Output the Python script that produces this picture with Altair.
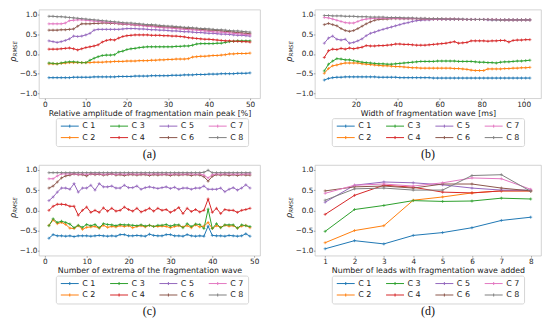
import altair as alt
import pandas as pd

series = ["C 1", "C 2", "C 3", "C 4", "C 5", "C 6", "C 7", "C 8"]
colors = ["#1f77b4", "#ff7f0e", "#2ca02c", "#d62728", "#9467bd", "#8c564b", "#e377c2", "#7f7f7f"]

# ---------------- panel (a) ----------------
x_a = list(range(1, 51))
a_c1 = [-0.60, -0.60, -0.60, -0.60, -0.60, -0.60, -0.59, -0.59, -0.59, -0.59,
        -0.59, -0.58, -0.58, -0.58, -0.58, -0.58, -0.58, -0.57, -0.57, -0.57,
        -0.57, -0.56, -0.56, -0.56, -0.56, -0.55, -0.55, -0.55, -0.55, -0.55,
        -0.54, -0.54, -0.54, -0.53, -0.53, -0.53, -0.52, -0.52, -0.52, -0.51,
        -0.51, -0.51, -0.50, -0.50, -0.50, -0.50, -0.49, -0.49, -0.49, -0.48]
a_c2 = [-0.25, -0.25, -0.25, -0.24, -0.23, -0.22, -0.22, -0.22, -0.22, -0.22,
        -0.22, -0.21, -0.21, -0.21, -0.20, -0.20, -0.19, -0.19, -0.19, -0.18,
        -0.18, -0.18, -0.17, -0.17, -0.17, -0.16, -0.16, -0.15, -0.15, -0.14,
        -0.14, -0.13, -0.13, -0.13, -0.12, -0.08, -0.07, -0.06, -0.06, -0.05,
        -0.04, -0.04, -0.03, -0.02, 0.00, 0.00, 0.01, 0.01, 0.01, 0.02]
a_c3 = [-0.23, -0.24, -0.25, -0.23, -0.21, -0.20, -0.20, -0.21, -0.22, -0.22,
        -0.16, -0.11, -0.07, -0.04, -0.03, -0.03, -0.02, 0.05, 0.07, 0.11,
        0.13, 0.14, 0.16, 0.17, 0.18, 0.18, 0.18, 0.18, 0.18, 0.18,
        0.18, 0.19, 0.19, 0.20, 0.20, 0.22, 0.25, 0.26, 0.26, 0.26,
        0.26, 0.27, 0.27, 0.29, 0.31, 0.32, 0.33, 0.33, 0.33, 0.33]
a_c4 = [0.12, 0.12, 0.12, 0.13, 0.14, 0.15, 0.13, 0.10, 0.13, 0.16,
        0.18, 0.20, 0.23, 0.30, 0.34, 0.36, 0.35, 0.40, 0.44, 0.46,
        0.47, 0.48, 0.48, 0.48, 0.48, 0.47, 0.47, 0.47, 0.46, 0.46,
        0.45, 0.45, 0.44, 0.43, 0.41, 0.40, 0.39, 0.38, 0.37, 0.37,
        0.36, 0.35, 0.34, 0.33, 0.33, 0.32, 0.32, 0.31, 0.31, 0.30]
a_c5 = [0.33, 0.31, 0.29, 0.31, 0.34, 0.38, 0.45, 0.44, 0.45, 0.48,
        0.52, 0.60, 0.62, 0.62, 0.62, 0.62, 0.62, 0.62, 0.63, 0.64,
        0.64, 0.64, 0.63, 0.63, 0.62, 0.61, 0.61, 0.60, 0.60, 0.59,
        0.58, 0.58, 0.57, 0.56, 0.56, 0.55, 0.54, 0.54, 0.53, 0.52,
        0.52, 0.51, 0.50, 0.50, 0.49, 0.48, 0.47, 0.47, 0.46, 0.45]
a_c6 = [0.60, 0.60, 0.60, 0.61, 0.61, 0.62, 0.63, 0.70, 0.76, 0.76,
        0.76, 0.77, 0.77, 0.78, 0.78, 0.77, 0.77, 0.76, 0.75, 0.75,
        0.74, 0.73, 0.73, 0.72, 0.71, 0.71, 0.70, 0.69, 0.68, 0.68,
        0.67, 0.66, 0.66, 0.65, 0.64, 0.63, 0.63, 0.62, 0.61, 0.60,
        0.60, 0.59, 0.58, 0.57, 0.56, 0.55, 0.54, 0.53, 0.52, 0.51]
a_c7 = [0.76, 0.76, 0.76, 0.76, 0.78, 0.84, 0.85, 0.86, 0.86, 0.85,
        0.84, 0.83, 0.82, 0.81, 0.80, 0.79, 0.78, 0.77, 0.76, 0.75,
        0.74, 0.73, 0.72, 0.71, 0.70, 0.69, 0.68, 0.67, 0.66, 0.66,
        0.65, 0.64, 0.63, 0.62, 0.61, 0.61, 0.60, 0.59, 0.58, 0.57,
        0.56, 0.55, 0.55, 0.54, 0.53, 0.52, 0.51, 0.50, 0.49, 0.48]
a_c8 = [0.95, 0.95, 0.94, 0.94, 0.93, 0.92, 0.91, 0.90, 0.89, 0.88,
        0.87, 0.86, 0.85, 0.84, 0.83, 0.82, 0.81, 0.80, 0.79, 0.78,
        0.78, 0.77, 0.76, 0.75, 0.74, 0.74, 0.73, 0.72, 0.71, 0.70,
        0.70, 0.69, 0.68, 0.67, 0.67, 0.66, 0.65, 0.64, 0.64, 0.63,
        0.62, 0.61, 0.61, 0.60, 0.59, 0.58, 0.58, 0.57, 0.56, 0.55]

# ---------------- panel (b) ----------------
x_b = list(range(5, 104, 2))
b_c1 = [-0.66, -0.62, -0.60, -0.59, -0.59, -0.58, -0.58, -0.58, -0.58, -0.58,
        -0.58, -0.58, -0.58, -0.59, -0.59, -0.59, -0.59, -0.59, -0.60, -0.60,
        -0.60, -0.60, -0.60, -0.60, -0.60, -0.60, -0.61, -0.61, -0.61, -0.61,
        -0.61, -0.61, -0.61, -0.61, -0.61, -0.61, -0.61, -0.61, -0.61, -0.61,
        -0.61, -0.61, -0.61, -0.61, -0.61, -0.61, -0.61, -0.61, -0.61, -0.61]
b_c2 = [-0.49, -0.37, -0.30, -0.28, -0.25, -0.23, -0.23, -0.23, -0.23, -0.25,
        -0.26, -0.27, -0.28, -0.29, -0.30, -0.30, -0.31, -0.32, -0.32, -0.33,
        -0.34, -0.35, -0.35, -0.36, -0.36, -0.36, -0.36, -0.36, -0.36, -0.36,
        -0.36, -0.37, -0.37, -0.38, -0.39, -0.41, -0.42, -0.42, -0.42, -0.38,
        -0.38, -0.38, -0.38, -0.37, -0.37, -0.36, -0.36, -0.35, -0.35, -0.34]
b_c3 = [-0.43, -0.26, -0.18, -0.12, -0.13, -0.15, -0.15, -0.17, -0.19, -0.21,
        -0.22, -0.23, -0.24, -0.25, -0.25, -0.26, -0.26, -0.25, -0.24, -0.23,
        -0.22, -0.21, -0.20, -0.19, -0.19, -0.19, -0.19, -0.18, -0.18, -0.18,
        -0.18, -0.18, -0.19, -0.19, -0.19, -0.19, -0.20, -0.21, -0.21, -0.22,
        -0.22, -0.23, -0.21, -0.20, -0.20, -0.19, -0.18, -0.18, -0.17, -0.16]
b_c4 = [-0.09, 0.08, 0.12, 0.11, 0.14, 0.12, 0.15, 0.13, 0.15, 0.17,
        0.21, 0.20, 0.20, 0.21, 0.21, 0.22, 0.23, 0.25, 0.25, 0.24,
        0.24, 0.23, 0.22, 0.22, 0.22, 0.23, 0.24, 0.25, 0.26, 0.27,
        0.29, 0.31, 0.27, 0.28, 0.29, 0.33, 0.33, 0.33, 0.33, 0.32,
        0.33, 0.33, 0.34, 0.34, 0.30, 0.34, 0.35, 0.35, 0.36, 0.36]
b_c5 = [0.27, 0.40, 0.45, 0.37, 0.35, 0.37, 0.27, 0.29, 0.33, 0.38,
        0.46, 0.52, 0.55, 0.59, 0.62, 0.65, 0.68, 0.71, 0.74, 0.77,
        0.79, 0.82, 0.84, 0.85, 0.86, 0.86, 0.87, 0.87, 0.87, 0.87,
        0.87, 0.87, 0.87, 0.87, 0.87, 0.87, 0.87, 0.87, 0.87, 0.86,
        0.86, 0.86, 0.86, 0.86, 0.86, 0.86, 0.86, 0.86, 0.86, 0.86]
b_c6 = [0.74, 0.77, 0.74, 0.71, 0.64, 0.59, 0.57, 0.59, 0.64, 0.70,
        0.76, 0.81, 0.85, 0.87, 0.88, 0.88, 0.89, 0.89, 0.89, 0.89,
        0.89, 0.89, 0.89, 0.88, 0.88, 0.88, 0.88, 0.88, 0.88, 0.88,
        0.88, 0.88, 0.87, 0.87, 0.87, 0.87, 0.87, 0.87, 0.87, 0.87,
        0.87, 0.87, 0.86, 0.86, 0.86, 0.86, 0.86, 0.86, 0.86, 0.86]
b_c7 = [0.92, 0.91, 0.88, 0.85, 0.82, 0.79, 0.78, 0.78, 0.82, 0.86,
        0.88, 0.89, 0.90, 0.90, 0.90, 0.90, 0.90, 0.90, 0.89, 0.89,
        0.89, 0.89, 0.89, 0.89, 0.88, 0.88, 0.88, 0.88, 0.88, 0.88,
        0.88, 0.88, 0.88, 0.87, 0.87, 0.87, 0.87, 0.87, 0.87, 0.87,
        0.87, 0.87, 0.87, 0.86, 0.86, 0.86, 0.86, 0.86, 0.86, 0.86]
b_c8 = [0.97, 0.97, 0.96, 0.96, 0.96, 0.95, 0.95, 0.95, 0.94, 0.94,
        0.94, 0.93, 0.93, 0.93, 0.93, 0.92, 0.92, 0.92, 0.92, 0.91,
        0.91, 0.91, 0.90, 0.90, 0.90, 0.89, 0.89, 0.89, 0.89, 0.88,
        0.88, 0.88, 0.88, 0.88, 0.87, 0.87, 0.87, 0.87, 0.87, 0.87,
        0.86, 0.86, 0.86, 0.86, 0.86, 0.86, 0.86, 0.86, 0.86, 0.86]

# ---------------- panel (c) ----------------
x_c = list(range(1, 50))
c_c1 = [-0.69, -0.60, -0.63, -0.63, -0.64, -0.63, -0.65, -0.63, -0.63, -0.63,
        -0.64, -0.63, -0.62, -0.63, -0.64, -0.63, -0.64, -0.60, -0.60, -0.63,
        -0.63, -0.62, -0.63, -0.64, -0.59, -0.62, -0.63, -0.63, -0.60, -0.60,
        -0.63, -0.63, -0.64, -0.60, -0.63, -0.64, -0.63, -0.64, -0.39, -0.62,
        -0.63, -0.63, -0.64, -0.62, -0.63, -0.64, -0.63, -0.58, -0.64]
c_c2 = [-0.37, -0.24, -0.33, -0.30, -0.35, -0.44, -0.45, -0.38, -0.47, -0.42,
        -0.41, -0.40, -0.44, -0.37, -0.42, -0.40, -0.41, -0.38, -0.40, -0.38,
        -0.43, -0.40, -0.38, -0.41, -0.37, -0.40, -0.40, -0.39, -0.40, -0.43,
        -0.40, -0.38, -0.41, -0.38, -0.43, -0.36, -0.41, -0.39, -0.30, -0.45,
        -0.38, -0.42, -0.37, -0.39, -0.38, -0.44, -0.39, -0.37, -0.43]
c_c3 = [-0.38, -0.21, -0.30, -0.27, -0.30, -0.34, -0.43, -0.37, -0.42, -0.35,
        -0.38, -0.35, -0.43, -0.33, -0.35, -0.36, -0.38, -0.35, -0.36, -0.36,
        -0.37, -0.38, -0.36, -0.39, -0.37, -0.40, -0.37, -0.37, -0.35, -0.39,
        -0.36, -0.36, -0.43, -0.33, -0.40, -0.34, -0.35, -0.45, 0.03, -0.45,
        -0.33, -0.43, -0.36, -0.36, -0.36, -0.44, -0.36, -0.38, -0.40]
c_c4 = [0.00, 0.10, 0.15, 0.15, 0.14, 0.10, 0.10, -0.12, 0.00, 0.08,
        -0.05, 0.00, -0.05, 0.06, -0.02, 0.05, -0.02, 0.00, 0.08, 0.02,
        -0.02, 0.05, -0.04, 0.00, 0.05, -0.02, 0.05, 0.00, 0.02, -0.05,
        0.00, 0.07, -0.08, 0.05, -0.03, 0.02, -0.04, 0.00, 0.28, -0.05,
        0.05, -0.08, 0.02, 0.00, 0.00, -0.05, 0.00, 0.02, 0.05]
c_c5 = [0.24, 0.33, 0.45, 0.55, 0.55, 0.52, 0.66, 0.45, 0.55, 0.55,
        0.62, 0.50, 0.66, 0.58, 0.58, 0.60, 0.55, 0.55, 0.62, 0.56,
        0.56, 0.60, 0.52, 0.56, 0.58, 0.56, 0.54, 0.56, 0.58, 0.54,
        0.57, 0.52, 0.55, 0.55, 0.52, 0.55, 0.55, 0.60, 0.52, 0.52,
        0.52, 0.55, 0.46, 0.52, 0.56, 0.50, 0.55, 0.63, 0.55]
c_c6 = [0.55, 0.60, 0.70, 0.80, 0.85, 0.87, 0.90, 0.88, 0.88, 0.85,
        0.90, 0.88, 0.89, 0.87, 0.88, 0.90, 0.87, 0.88, 0.86, 0.88,
        0.88, 0.87, 0.88, 0.88, 0.86, 0.88, 0.87, 0.88, 0.88, 0.86,
        0.88, 0.87, 0.88, 0.88, 0.86, 0.88, 0.87, 0.83, 0.72, 0.84,
        0.88, 0.87, 0.88, 0.86, 0.88, 0.86, 0.88, 0.87, 0.87]
c_c7 = [0.78, 0.78, 0.85, 0.90, 0.90, 0.90, 0.90, 0.89, 0.90, 0.89,
        0.90, 0.90, 0.90, 0.89, 0.90, 0.90, 0.89, 0.90, 0.89, 0.90,
        0.90, 0.89, 0.90, 0.90, 0.89, 0.90, 0.90, 0.89, 0.90, 0.89,
        0.90, 0.90, 0.89, 0.90, 0.90, 0.89, 0.90, 0.87, 0.80, 0.88,
        0.90, 0.89, 0.90, 0.90, 0.89, 0.90, 0.89, 0.90, 0.90]
c_c8 = [0.93, 0.93, 0.93, 0.93, 0.93, 0.93, 0.93, 0.93, 0.93, 0.93,
        0.93, 0.93, 0.93, 0.93, 0.93, 0.93, 0.93, 0.93, 0.93, 0.93,
        0.93, 0.93, 0.93, 0.93, 0.93, 0.93, 0.93, 0.93, 0.93, 0.93,
        0.93, 0.93, 0.93, 0.93, 0.93, 0.93, 0.93, 0.94, 0.99, 0.93,
        0.93, 0.93, 0.93, 0.93, 0.93, 0.93, 0.93, 0.93, 0.93]

# ---------------- panel (d) ----------------
x_d = [1, 2, 3, 4, 5, 6, 7, 8]
d_c1 = [-0.95, -0.75, -0.83, -0.62, -0.55, -0.43, -0.25, -0.17]
d_c2 = [-0.80, -0.50, -0.38, 0.25, 0.33, 0.43, 0.48, 0.48]
d_c3 = [-0.52, 0.02, 0.12, 0.24, 0.22, 0.23, 0.30, 0.28]
d_c4 = [-0.10, 0.37, 0.62, 0.57, 0.45, 0.43, 0.48, 0.48]
d_c5 = [0.20, 0.62, 0.70, 0.68, 0.63, 0.55, 0.50, 0.50]
d_c6 = [0.48, 0.58, 0.60, 0.55, 0.65, 0.65, 0.55, 0.48]
d_c7 = [0.42, 0.62, 0.65, 0.60, 0.68, 0.80, 0.78, 0.52]
d_c8 = [0.25, 0.53, 0.55, 0.50, 0.50, 0.86, 0.88, 0.47]

y_ticks = [-1.0, -0.5, 0.0, 0.5, 1.0]


def long_df(xs, cols):
    rows = []
    for name, vals in zip(series, cols):
        for x, v in zip(xs, vals):
            rows.append({"x": x, "y": v, "s": name})
    return pd.DataFrame(rows)


def panel(df, xdom, xticks, xtitle, caption, W, H):
    color = alt.Color(
        "s:N",
        scale=alt.Scale(domain=series, range=colors),
        legend=alt.Legend(
            orient="none", legendX=17, legendY=H + 20, columns=4, title=None,
            symbolType="M-1,0H5M2,-0.5V0.5", symbolSize=36, symbolStrokeWidth=1,
            labelOffset=14.5, columnPadding=12.5, rowPadding=3.5, padding=4,
            labelFontSize=8, labelFont="DejaVu Sans", labelColor="#222222",
            strokeColor="#d5d5d5", fillColor="white", cornerRadius=2,
        ),
    )
    base = alt.Chart(df).encode(
        x=alt.X("x:Q", scale=alt.Scale(domain=xdom, nice=False, zero=False),
                axis=alt.Axis(values=xticks, format="d", title=xtitle)),
        y=alt.Y("y:Q", scale=alt.Scale(domain=[-1.12, 1.12], nice=False, zero=False),
                axis=alt.Axis(values=y_ticks, format=".1f", title=None)),
        color=color,
    )
    lines = base.mark_line(strokeWidth=1)
    pts = base.mark_point(shape="M-1,0H1M0,-1V1", size=9, filled=False,
                          strokeWidth=0.7, opacity=1)
    rho = alt.Chart(pd.DataFrame({"t": ["ρ"]})).mark_text(
        font="DejaVu Sans", fontStyle="italic", fontSize=8.5, angle=270,
        align="left", baseline="middle", color="#222222",
    ).encode(x=alt.value(-26), y=alt.value(H / 2 + 8), text="t:N")
    sub = alt.Chart(pd.DataFrame({"t": ["RMSE"]})).mark_text(
        font="DejaVu Sans", fontStyle="italic", fontSize=5.5, angle=270,
        align="left", baseline="middle", color="#222222",
    ).encode(x=alt.value(-23.5), y=alt.value(H / 2 + 2.5), text="t:N")
    cap = alt.Chart(pd.DataFrame({"t": [caption]})).mark_text(
        font="Liberation Serif", fontSize=12, color="#111111",
        align="center", baseline="middle",
    ).encode(x=alt.value(W / 2), y=alt.value(H + 56), text="t:N")
    return alt.layer(lines, pts, rho, sub, cap).properties(width=W, height=H)


pa = panel(long_df(x_a, [a_c1, a_c2, a_c3, a_c4, a_c5, a_c6, a_c7, a_c8]),
           [-1.45, 52.45], [0, 10, 20, 30, 40, 50],
           "Relative amplitude of fragmentation main peak [%]", "(a)", 222, 89)
pb = panel(long_df(x_b, [b_c1, b_c2, b_c3, b_c4, b_c5, b_c6, b_c7, b_c8]),
           [0.5, 108.3], [20, 40, 60, 80, 100],
           "Width of fragmentation wave [ms]", "(b)", 227, 89)
pc = panel(long_df(x_c, [c_c1, c_c2, c_c3, c_c4, c_c5, c_c6, c_c7, c_c8]),
           [-1.4, 51.4], [0, 10, 20, 30, 40, 50],
           "Number of extrema of the fragmentation wave", "(c)", 222, 91)
pd_ = panel(long_df(x_d, [d_c1, d_c2, d_c3, d_c4, d_c5, d_c6, d_c7, d_c8]),
            [0.65, 8.35], [1, 2, 3, 4, 5, 6, 7, 8],
            "Number of leads with fragmentation wave added", "(d)", 227, 91)

top = alt.hconcat(pa, pb, spacing=23).resolve_scale(color="independent").resolve_legend(color="independent")
bottom = alt.hconcat(pc, pd_, spacing=23).resolve_scale(color="independent").resolve_legend(color="independent")

chart = (
    alt.vconcat(top, bottom, spacing=3)
    .resolve_scale(color="independent")
    .resolve_legend(color="independent")
    .properties(padding={"left": 0, "top": 0, "right": 0, "bottom": 0})
    .configure_view(stroke="#c8c8c8", strokeWidth=0.8)
    .configure_axis(
        domain=False, grid=False, tickSize=1.5, tickColor="#666666", tickWidth=0.6,
        labelFont="DejaVu Sans", labelFontSize=7.3, labelColor="#222222", labelPadding=0.5,
        titleFont="DejaVu Sans", titleFontSize=7.9, titleFontWeight="normal",
        titleColor="#222222", titlePadding=2,
    )
)

chart.save("out.html", embed_options={"renderer": "svg", "actions": False})
